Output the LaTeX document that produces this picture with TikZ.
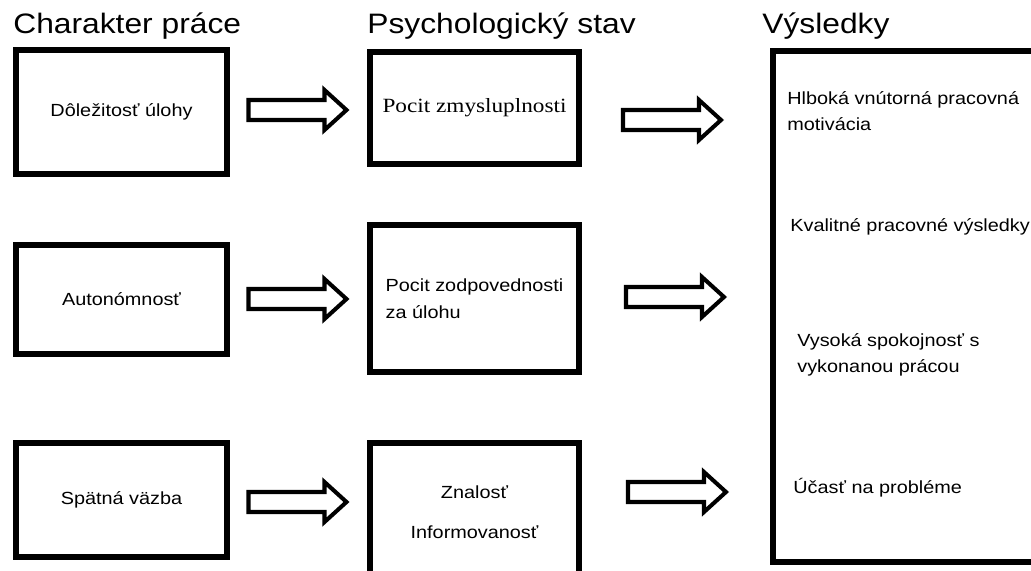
\documentclass[tikz,border=0pt]{standalone}
\usepackage{fontspec}
\setmainfont[FakeStretch=1.13]{Liberation Sans}
\newfontfamily\timesfont[FakeStretch=1.15]{Liberation Serif}
\usetikzlibrary{calc}

\begin{document}
\begin{tikzpicture}[x=0.02cm, y=-0.02cm,
    box/.style={draw, line width=3.4pt, inner sep=0pt, align=center, font=\fontsize{10}{15.4}\selectfont},
    head/.style={anchor=base west, inner sep=0pt, font=\fontsize{16}{19}\selectfont},
    result/.style={anchor=west, inner sep=0pt, align=left, font=\fontsize{10}{14.8}\selectfont},
    pics/fatarrow/.style={code={
        \draw[line width=2.3pt] (-50,-10) -- (26,-10) -- (26,-20) -- (48,0) -- (26,20) -- (26,10) -- (-50,10) -- cycle;}}]
    \useasboundingbox (0,0) rectangle (1031,571);
    \clip (0,0) rectangle (1031,571);

    % column titles
    \node[head] (h1) at (13,34) {Charakter práce};
    \node[head] (h2) at (367,34) {Psychologický stav};
    \node[head] (h3) at (762,34) {Výsledky};

    % job characteristics
    \node[box, minimum width=4.22cm, minimum height=2.48cm] (c1) at (121.5,112) {Dôležitosť úlohy};
    \node[box, minimum width=4.22cm, minimum height=2.18cm] (c2) at (121.5,299.5) {Autonómnosť};
    \node[box, minimum width=4.22cm, minimum height=2.28cm] (c3) at (121.5,500) {Spätná väzba};

    % psychological states
    \node[box, minimum width=4.18cm, minimum height=2.24cm, font=\timesfont\fontsize{11.5}{14}\selectfont] (p1) at (474.5,108) {Pocit zmysluplnosti};
    \node[box, minimum width=4.18cm, minimum height=2.94cm, align=left] (p2) at (474.5,298.5) {Pocit zodpovednosti\\za úlohu};
    \node[box, minimum width=4.18cm, minimum height=2.78cm, font=\fontsize{10}{22.8}\selectfont] (p3) at (474.5,512.5) {Znalosť\\Informovanosť};

    % outcomes
    \node[box, minimum width=6.14cm, minimum height=10.22cm] (res) at (926.5,306.5) {};
    \node[result] (r1) at (787,111.5) {Hlboká vnútorná pracovná\\motivácia};
    \node[result] (r2) at (790,227) {Kvalitné pracovné výsledky};
    \node[result] (r3) at (797,354.5) {Vysoká spokojnosť s\\vykonanou prácou};
    \node[result] (r4) at (793,488) {Účasť na probléme};

    % arrows
    \pic at ($(c1.east)!.5!(p1.west)$) {fatarrow};
    \pic at ($(c2.east)!.5!(p2.west)$) {fatarrow};
    \pic at ($(c3.east |- 0,502)!.5!(p3.west |- 0,502)$) {fatarrow};
    \pic at ($(p1.east)!.5!(p1.east -| res.west)+(-3,12)$) {fatarrow};
    \pic at ($(p2.east)!.5!(p2.east -| res.west)+(0,-1.5)$) {fatarrow};
    \pic at ($(p3.east |- 0,492)!.5!(res.west |- 0,492)+(2,0)$) {fatarrow};
\end{tikzpicture}
\end{document}
